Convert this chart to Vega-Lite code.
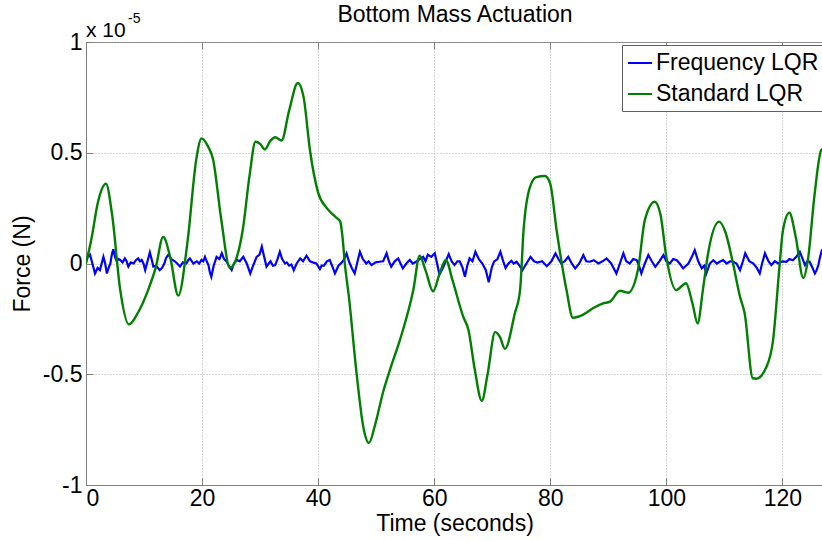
{
  "$schema": "https://vega.github.io/schema/vega-lite/v6.json",
  "width": 737,
  "height": 443,
  "autosize": {"type": "none"},
  "padding": {"left": 86, "top": 42, "right": 0, "bottom": 56},
  "background": "white",
  "config": {
    "font": "Liberation Sans",
    "view": {"stroke": "#808080", "strokeWidth": 1},
    "axis": {"domainColor": "#808080", "tickColor": "#808080", "gridColor": "#a8a8a8", "gridDash": [1, 2], "gridWidth": 1, "labelColor": "black", "titleColor": "black", "labelFont": "Liberation Sans", "titleFont": "Liberation Sans", "labelFontSize": 23, "titleFontSize": 23, "titleFontWeight": "normal"}
  },
  "datasets": {
    "frequency": [
      {"time": 0, "force": 1.6e-7}, {"time": 0.35, "force": 3e-7}, {"time": 0.7, "force": 4e-7}, {"time": 1.1, "force": 0},
      {"time": 1.55, "force": -4.5e-7}, {"time": 2.0, "force": -2e-7}, {"time": 2.4, "force": -3e-7}, {"time": 2.7, "force": 0},
      {"time": 3.0, "force": 3e-7}, {"time": 3.3, "force": 0}, {"time": 3.6, "force": -4.5e-7}, {"time": 3.9, "force": -2e-7},
      {"time": 4.2, "force": 0}, {"time": 4.45, "force": 4e-7}, {"time": 4.7, "force": 6.4e-7}, {"time": 5.0, "force": 3e-7},
      {"time": 5.3, "force": 1e-7}, {"time": 5.6, "force": 2e-7}, {"time": 5.9, "force": 1.6e-7}, {"time": 6.3, "force": 5e-8},
      {"time": 6.7, "force": 2.3e-7}, {"time": 7.0, "force": 1e-7}, {"time": 7.3, "force": -1.4e-7}, {"time": 7.7, "force": 5e-8},
      {"time": 8.2, "force": 0}, {"time": 8.6, "force": 1.5e-7}, {"time": 9.0, "force": 2.3e-7}, {"time": 9.3, "force": 1e-7},
      {"time": 9.6, "force": 1.6e-7}, {"time": 9.9, "force": 0}, {"time": 10.2, "force": -3e-7}, {"time": 10.6, "force": 1e-7},
      {"time": 11.0, "force": 5e-7}, {"time": 11.3, "force": 2e-7}, {"time": 11.6, "force": -1.4e-7}, {"time": 12.1, "force": -1e-7},
      {"time": 12.7, "force": -3e-7}, {"time": 13.1, "force": -2e-7}, {"time": 13.5, "force": 0}, {"time": 13.8, "force": 2.5e-7},
      {"time": 14.2, "force": 4e-7}, {"time": 14.7, "force": 2e-7}, {"time": 15.3, "force": 1e-7}, {"time": 15.7, "force": 0},
      {"time": 16.2, "force": -1.4e-7}, {"time": 16.7, "force": 5e-8}, {"time": 17.3, "force": 0}, {"time": 17.6, "force": 1.5e-7},
      {"time": 17.9, "force": 2.3e-7}, {"time": 18.5, "force": 0}, {"time": 19.1, "force": 1e-7}, {"time": 19.5, "force": 0},
      {"time": 19.9, "force": 1.6e-7}, {"time": 20.2, "force": 1e-7}, {"time": 20.5, "force": 3e-7}, {"time": 20.8, "force": 1e-7},
      {"time": 21.1, "force": -7e-8}, {"time": 21.35, "force": -4e-7}, {"time": 21.6, "force": -6e-7}, {"time": 22.0, "force": -1e-7},
      {"time": 22.5, "force": 3e-7}, {"time": 23.0, "force": 2e-7}, {"time": 23.4, "force": 4.6e-7}, {"time": 23.8, "force": 2e-7},
      {"time": 24.2, "force": 1e-7}, {"time": 24.6, "force": -1e-7}, {"time": 25.1, "force": -3e-7}, {"time": 25.5, "force": 0},
      {"time": 26.0, "force": 1.6e-7}, {"time": 26.5, "force": 1e-7}, {"time": 27.1, "force": 3e-7}, {"time": 27.7, "force": 0},
      {"time": 28.3, "force": -4.5e-7}, {"time": 28.8, "force": -1e-7}, {"time": 29.4, "force": 3e-7}, {"time": 29.9, "force": 4e-7},
      {"time": 30.3, "force": 7.6e-7}, {"time": 30.7, "force": 3e-7}, {"time": 31.1, "force": -1.4e-7}, {"time": 31.5, "force": 0},
      {"time": 31.8, "force": 1e-7}, {"time": 32.2, "force": -1e-7}, {"time": 32.6, "force": -7e-8}, {"time": 33.0, "force": 2e-7},
      {"time": 33.4, "force": 5.3e-7}, {"time": 33.8, "force": 2e-7}, {"time": 34.3, "force": 0}, {"time": 34.6, "force": 5e-8},
      {"time": 35.0, "force": -1e-7}, {"time": 35.4, "force": -5e-8}, {"time": 35.8, "force": -3e-7}, {"time": 36.3, "force": 0},
      {"time": 36.9, "force": 2.3e-7}, {"time": 37.4, "force": 1e-7}, {"time": 38.0, "force": 3.5e-7}, {"time": 38.6, "force": 1e-7},
      {"time": 39.2, "force": 4e-8}, {"time": 39.7, "force": 0}, {"time": 40.3, "force": -2.5e-7}, {"time": 40.6, "force": -1e-7},
      {"time": 41.0, "force": -1e-7}, {"time": 41.5, "force": 1e-7}, {"time": 42.0, "force": 1.6e-7}, {"time": 42.4, "force": -1e-7},
      {"time": 42.9, "force": -4.5e-7}, {"time": 43.5, "force": -1e-7}, {"time": 44.1, "force": 5e-8}, {"time": 44.5, "force": 2e-7},
      {"time": 44.9, "force": 4.5e-7}, {"time": 45.3, "force": 1e-7}, {"time": 45.8, "force": -2e-7}, {"time": 46.0, "force": -3e-7},
      {"time": 46.3, "force": -4.5e-7}, {"time": 46.8, "force": 1e-7}, {"time": 47.2, "force": 5.3e-7}, {"time": 47.7, "force": 2e-7},
      {"time": 48.3, "force": 0}, {"time": 48.7, "force": 1e-7}, {"time": 49.2, "force": -7e-8}, {"time": 49.9, "force": 5e-8},
      {"time": 50.6, "force": 8e-8}, {"time": 51.2, "force": 1e-7}, {"time": 51.8, "force": 4.6e-7}, {"time": 52.2, "force": 1e-7},
      {"time": 52.6, "force": -1.4e-7}, {"time": 53.2, "force": 1e-7}, {"time": 53.8, "force": 2.3e-7}, {"time": 54.2, "force": 0},
      {"time": 54.6, "force": -2.2e-7}, {"time": 55.2, "force": 0}, {"time": 55.8, "force": 1.6e-7}, {"time": 56.3, "force": 0},
      {"time": 56.9, "force": 8e-8}, {"time": 57.5, "force": 2e-7}, {"time": 58.1, "force": 3e-7}, {"time": 58.5, "force": 1e-7},
      {"time": 58.9, "force": 4e-7}, {"time": 59.5, "force": 3e-7}, {"time": 60.1, "force": 4.6e-7}, {"time": 60.5, "force": 0},
      {"time": 60.9, "force": -5e-7}, {"time": 61.5, "force": -2e-7}, {"time": 62.0, "force": 1e-7}, {"time": 62.5, "force": 4.2e-7},
      {"time": 63.0, "force": 1e-7}, {"time": 63.5, "force": -7e-8}, {"time": 64.0, "force": 1e-7}, {"time": 64.4, "force": 1e-7},
      {"time": 64.9, "force": -2e-7}, {"time": 65.3, "force": -6e-7}, {"time": 65.7, "force": -1e-7}, {"time": 66.1, "force": 2.3e-7},
      {"time": 66.6, "force": 1e-7}, {"time": 67.1, "force": 5.3e-7}, {"time": 67.7, "force": 2e-7}, {"time": 68.3, "force": 0},
      {"time": 68.9, "force": -3e-7}, {"time": 69.4, "force": -8.5e-7}, {"time": 69.9, "force": -2e-7}, {"time": 70.3, "force": 8e-8},
      {"time": 70.9, "force": 2e-7}, {"time": 71.4, "force": 5.3e-7}, {"time": 71.9, "force": 1e-7}, {"time": 72.3, "force": -2e-7},
      {"time": 72.8, "force": 0}, {"time": 73.3, "force": 1.2e-7}, {"time": 73.7, "force": 0}, {"time": 74.2, "force": 8e-8},
      {"time": 74.7, "force": -1e-7}, {"time": 75.2, "force": -3e-7}, {"time": 75.9, "force": 0}, {"time": 76.6, "force": 3e-7},
      {"time": 77.2, "force": 1e-7}, {"time": 77.8, "force": 4e-8}, {"time": 78.6, "force": 1e-7}, {"time": 79.4, "force": -1.2e-7},
      {"time": 80.2, "force": 1e-7}, {"time": 80.9, "force": 4.6e-7}, {"time": 81.4, "force": 2e-7}, {"time": 81.9, "force": 0},
      {"time": 82.5, "force": 1e-7}, {"time": 83.1, "force": 3e-7}, {"time": 83.7, "force": 0}, {"time": 84.3, "force": -2.2e-7},
      {"time": 85.0, "force": 0}, {"time": 85.7, "force": 3.8e-7}, {"time": 86.2, "force": 1e-7}, {"time": 86.8, "force": 8e-8},
      {"time": 87.5, "force": 1.5e-7}, {"time": 88.3, "force": 0}, {"time": 89.0, "force": 1e-7}, {"time": 89.7, "force": 2.3e-7},
      {"time": 90.5, "force": 0}, {"time": 91.4, "force": -4.5e-7}, {"time": 92.0, "force": 0}, {"time": 92.6, "force": 4.6e-7},
      {"time": 93.1, "force": 1e-7}, {"time": 93.7, "force": 0}, {"time": 94.3, "force": 2e-7}, {"time": 94.9, "force": 1.5e-7},
      {"time": 95.3, "force": -1e-7}, {"time": 95.7, "force": -4.5e-7}, {"time": 96.3, "force": 0}, {"time": 96.9, "force": 3.8e-7},
      {"time": 97.5, "force": 1e-7}, {"time": 98.1, "force": -1.5e-7}, {"time": 98.8, "force": 1e-7}, {"time": 99.5, "force": 3.8e-7},
      {"time": 100.0, "force": 1e-7}, {"time": 100.6, "force": 0}, {"time": 101.2, "force": 2e-7}, {"time": 101.8, "force": 1.5e-7},
      {"time": 102.3, "force": 0}, {"time": 102.9, "force": -2.2e-7}, {"time": 103.4, "force": -1e-7}, {"time": 103.8, "force": 0},
      {"time": 104.4, "force": 3e-7}, {"time": 104.9, "force": 6e-7}, {"time": 105.5, "force": 1e-7}, {"time": 106.1, "force": -2.2e-7},
      {"time": 106.5, "force": -1e-7}, {"time": 106.9, "force": -4.5e-7}, {"time": 107.5, "force": 0}, {"time": 108.1, "force": 1.5e-7},
      {"time": 108.7, "force": 0}, {"time": 109.2, "force": 8e-8}, {"time": 109.8, "force": 1.5e-7}, {"time": 110.4, "force": 0},
      {"time": 111.0, "force": 1e-7}, {"time": 111.5, "force": 8e-8}, {"time": 112.1, "force": 0}, {"time": 112.7, "force": -3e-7},
      {"time": 113.2, "force": 1e-7}, {"time": 113.6, "force": 4.6e-7}, {"time": 114.3, "force": 1e-7}, {"time": 115.0, "force": 0},
      {"time": 115.6, "force": -2e-7}, {"time": 116.1, "force": -4.5e-7}, {"time": 116.5, "force": 0}, {"time": 117.0, "force": 4.6e-7},
      {"time": 117.6, "force": 1e-7}, {"time": 118.1, "force": -7e-8}, {"time": 118.7, "force": 1e-7}, {"time": 119.3, "force": 0},
      {"time": 120.0, "force": 1e-7}, {"time": 120.7, "force": 8e-8}, {"time": 121.2, "force": 2e-7}, {"time": 121.8, "force": 1.5e-7},
      {"time": 122.4, "force": 3e-7}, {"time": 123.0, "force": 5.3e-7}, {"time": 123.5, "force": 2e-7}, {"time": 123.9, "force": -7e-8},
      {"time": 124.3, "force": 1e-7}, {"time": 124.7, "force": 8e-8}, {"time": 125.2, "force": -2e-7}, {"time": 125.6, "force": -4.5e-7},
      {"time": 125.9, "force": -3e-7}, {"time": 126.2, "force": -7e-8}, {"time": 126.5, "force": 3e-7}, {"time": 126.8, "force": 6e-7},
      {"time": 127.2, "force": 7e-7}
    ],
    "standard": [
      {"time": 0, "force": 0}, {"time": 1.0, "force": 1.2e-6}, {"time": 2.0, "force": 2.7e-6}, {"time": 3.45, "force": 3.6e-6},
      {"time": 4.5, "force": 2.2e-6}, {"time": 5.9, "force": -1.2e-6}, {"time": 7.4, "force": -2.75e-6}, {"time": 9.0, "force": -2.2e-6},
      {"time": 10.7, "force": -1.2e-6}, {"time": 12.0, "force": -2e-7}, {"time": 13.3, "force": 1.2e-6}, {"time": 14.5, "force": 3e-7},
      {"time": 15.9, "force": -1.45e-6}, {"time": 17.5, "force": 1e-6}, {"time": 19.0, "force": 4.7e-6}, {"time": 19.9, "force": 5.65e-6},
      {"time": 21.0, "force": 5.3e-6}, {"time": 21.9, "force": 4.7e-6}, {"time": 23.3, "force": 2e-6}, {"time": 24.8, "force": -2e-7},
      {"time": 26.0, "force": 3e-7}, {"time": 27.0, "force": 1.5e-6}, {"time": 28.2, "force": 4e-6}, {"time": 29.2, "force": 5.5e-6},
      {"time": 30.0, "force": 5.4e-6}, {"time": 30.8, "force": 5.15e-6}, {"time": 31.8, "force": 5.55e-6}, {"time": 32.6, "force": 5.7e-6},
      {"time": 33.7, "force": 5.55e-6}, {"time": 35.0, "force": 6.9e-6}, {"time": 36.5, "force": 8.15e-6}, {"time": 37.5, "force": 7.5e-6},
      {"time": 38.6, "force": 5.1e-6}, {"time": 40.0, "force": 3.2e-6}, {"time": 41.5, "force": 2.5e-6}, {"time": 43.0, "force": 2.1e-6},
      {"time": 43.8, "force": 1.9e-6}, {"time": 44.2, "force": 1.2e-6}, {"time": 44.6, "force": 0}, {"time": 45.3, "force": -1.5e-6},
      {"time": 46.6, "force": -4.9e-6}, {"time": 47.8, "force": -7.4e-6}, {"time": 48.75, "force": -8.1e-6}, {"time": 49.8, "force": -7.3e-6},
      {"time": 51.2, "force": -5.8e-6}, {"time": 52.5, "force": -4.7e-6}, {"time": 54.1, "force": -3.45e-6}, {"time": 56.4, "force": -1.2e-6},
      {"time": 57.5, "force": 3.5e-7}, {"time": 58.5, "force": -3e-7}, {"time": 59.8, "force": -1.25e-6}, {"time": 61.0, "force": -4e-7},
      {"time": 62.0, "force": 1.6e-7}, {"time": 63.2, "force": -8e-7}, {"time": 65.0, "force": -2.4e-6}, {"time": 65.9, "force": -3e-6},
      {"time": 67.0, "force": -4.8e-6}, {"time": 68.2, "force": -6.2e-6}, {"time": 69.2, "force": -5e-6}, {"time": 70.5, "force": -3.1e-6},
      {"time": 71.3, "force": -3.3e-6}, {"time": 72.2, "force": -3.85e-6}, {"time": 73.9, "force": -2.25e-6}, {"time": 74.8, "force": -1.2e-6},
      {"time": 75.4, "force": 1.5e-6}, {"time": 76.5, "force": 3.45e-6}, {"time": 77.6, "force": 3.9e-6}, {"time": 79.1, "force": 3.95e-6},
      {"time": 80.0, "force": 3.6e-6}, {"time": 81.1, "force": 1.5e-6}, {"time": 82.8, "force": -1.2e-6}, {"time": 83.9, "force": -2.45e-6},
      {"time": 85.6, "force": -2.32e-6}, {"time": 87.5, "force": -2e-6}, {"time": 89.1, "force": -1.8e-6}, {"time": 90.3, "force": -1.72e-6},
      {"time": 92.0, "force": -1.23e-6}, {"time": 93.4, "force": -1.32e-6}, {"time": 95.1, "force": -3e-7}, {"time": 96.3, "force": 1.96e-6},
      {"time": 98.0, "force": 2.79e-6}, {"time": 99.0, "force": 2.2e-6}, {"time": 100.0, "force": 3e-7}, {"time": 101.7, "force": -1.2e-6},
      {"time": 103.4, "force": -8.9e-7}, {"time": 104.5, "force": -1.8e-6}, {"time": 105.4, "force": -2.7e-6}, {"time": 106.3, "force": -1.2e-6},
      {"time": 107.2, "force": 4.6e-7}, {"time": 109.1, "force": 1.89e-6}, {"time": 110.2, "force": 1.4e-6}, {"time": 111.5, "force": 0},
      {"time": 112.7, "force": -1.5e-6}, {"time": 113.5, "force": -2.25e-6}, {"time": 114.9, "force": -5.18e-6}, {"time": 115.5, "force": -5.2e-6},
      {"time": 117.2, "force": -4.7e-6}, {"time": 118.4, "force": -3.45e-6}, {"time": 119.5, "force": -1.4e-7}, {"time": 120.1, "force": 1.5e-6},
      {"time": 121.2, "force": 2.29e-6}, {"time": 122.3, "force": 1.2e-6}, {"time": 123.6, "force": -6.5e-7}, {"time": 124.4, "force": 1.6e-7},
      {"time": 125.5, "force": 3e-6}, {"time": 126.7, "force": 5.12e-6}, {"time": 127.2, "force": 5.2e-6}
    ]
  },
  "layer": [
    {
      "data": {"name": "frequency"},
      "transform": [{"calculate": "'Frequency LQR'", "as": "series"}],
      "mark": {"type": "line", "strokeWidth": 2.2, "interpolate": "linear", "clip": true},
      "encoding": {
        "x": {"field": "time", "type": "quantitative", "scale": {"domain": [0, 127], "nice": false, "zero": false},
              "axis": {"orient": "top", "values": [0, 20, 40, 60, 80, 100, 120], "labels": false, "grid": false, "domain": false, "tickSize": -7, "title": "Bottom Mass Actuation", "titleFontSize": 23, "titlePadding": 15}},
        "y": {"field": "force", "type": "quantitative", "scale": {"domain": [-1e-5, 1e-5], "nice": false}, "axis": null},
        "color": {"field": "series", "type": "nominal",
                  "scale": {"domain": ["Frequency LQR", "Standard LQR"], "range": ["#0000ff", "#008000"]},
                  "legend": {"orient": "none", "legendX": 536, "legendY": 3, "title": null, "symbolType": "stroke", "symbolSize": 576, "symbolStrokeWidth": 2, "labelFontSize": 23, "labelFont": "Liberation Sans", "labelColor": "black", "labelOffset": 3, "labelLimit": 400, "padding": 5, "rowPadding": 6, "strokeColor": "#606060", "fillColor": "white"}}
      }
    },
    {
      "data": {"name": "standard"},
      "transform": [{"calculate": "'Standard LQR'", "as": "series"}],
      "mark": {"type": "line", "strokeWidth": 2.4, "interpolate": "monotone", "clip": true},
      "encoding": {
        "x": {"field": "time", "type": "quantitative",
              "axis": {"orient": "bottom", "values": [0, 20, 40, 60, 80, 100, 120], "grid": true, "tickSize": -7, "labelPadding": 9, "title": "Time (seconds)", "titlePadding": 2}},
        "y": {"field": "force", "type": "quantitative",
              "axis": {"orient": "left", "values": [-1e-5, -5e-6, 0, 5e-6, 1e-5], "grid": true, "tickSize": -7, "labelPadding": 11, "labelExpr": "toString(round(datum.value*1e6)/10)", "title": "Force (N)", "titlePadding": 8}},
        "color": {"field": "series", "type": "nominal"}
      }
    },
    {
      "data": {"values": [{"label": "x 10"}]},
      "mark": {"type": "text", "align": "left", "baseline": "alphabetic", "fontSize": 21, "font": "Liberation Sans", "color": "black", "dx": 0, "dy": -5},
      "encoding": {
        "x": {"datum": 0, "type": "quantitative", "axis": null},
        "y": {"datum": 1e-5, "type": "quantitative", "axis": null},
        "text": {"field": "label"}
      }
    },
    {
      "data": {"values": [{"label": "-5"}]},
      "mark": {"type": "text", "align": "left", "baseline": "alphabetic", "fontSize": 14, "font": "Liberation Sans", "color": "black", "dx": 42, "dy": -19},
      "encoding": {
        "x": {"datum": 0, "type": "quantitative", "axis": null},
        "y": {"datum": 1e-5, "type": "quantitative", "axis": null},
        "text": {"field": "label"}
      }
    }
  ],
  "resolve": {"axis": {"x": "independent", "y": "independent"}}
}
